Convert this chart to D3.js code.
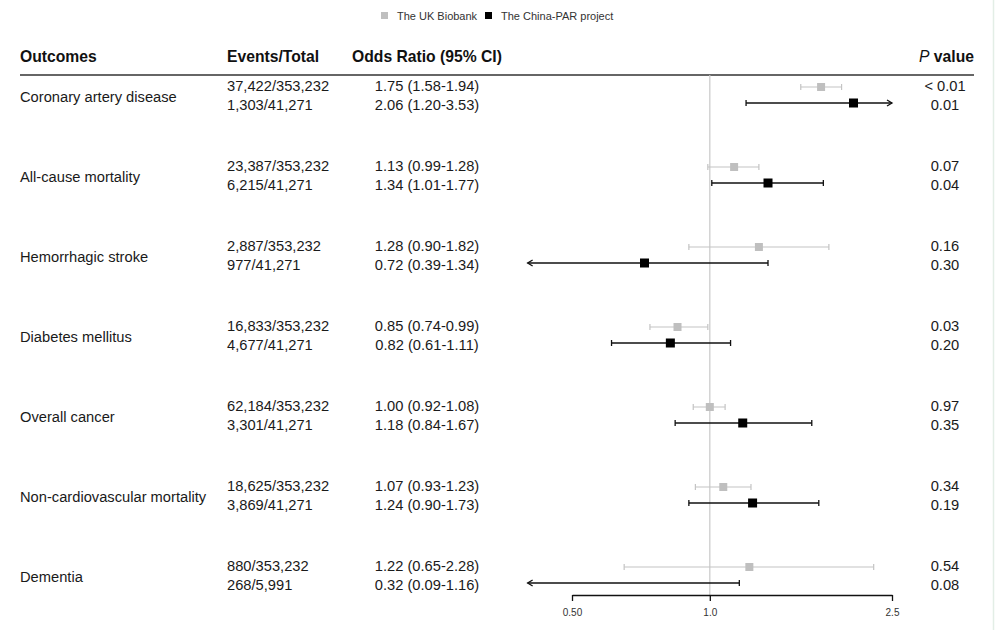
<!DOCTYPE html>
<html>
<head>
<meta charset="utf-8">
<script src="https://cdn.jsdelivr.net/npm/d3@7"></script>
<style>
  body { margin: 0; background: #fff; }
  svg { font-family: "Liberation Sans", Arial, sans-serif; }
  .cell { font-size: 14.7px; fill: #1a1a1a; }
  .head { font-size: 15.7px; font-weight: bold; fill: #111; }
</style>
</head>
<body>
<div id="chart"></div>
<script>
//--------------------------- DATA ---------------------------//
var outcomes = ["Coronary artery disease", "All-cause mortality", "Hemorrhagic stroke",
                "Diabetes mellitus", "Overall cancer", "Non-cardiovascular mortality", "Dementia"];
var cohorts = ["The UK Biobank", "The China-PAR project"];

// UK Biobank rows
var ukEvents = ["37,422/353,232", "23,387/353,232", "2,887/353,232", "16,833/353,232",
                "62,184/353,232", "18,625/353,232", "880/353,232"];
var ukOR = [1.75, 1.13, 1.28, 0.85, 1.00, 1.07, 1.22];
var ukLow = [1.58, 0.99, 0.90, 0.74, 0.92, 0.93, 0.65];
var ukHigh = [1.94, 1.28, 1.82, 0.99, 1.08, 1.23, 2.28];
var ukP = ["< 0.01", "0.07", "0.16", "0.03", "0.97", "0.34", "0.54"];

// China-PAR rows
var cnEvents = ["1,303/41,271", "6,215/41,271", "977/41,271", "4,677/41,271",
                "3,301/41,271", "3,869/41,271", "268/5,991"];
var cnOR = [2.06, 1.34, 0.72, 0.82, 1.18, 1.24, 0.32];
var cnLow = [1.20, 1.01, 0.39, 0.61, 0.84, 0.90, 0.09];
var cnHigh = [3.53, 1.77, 1.34, 1.11, 1.67, 1.73, 1.16];
var cnP = ["0.01", "0.04", "0.30", "0.20", "0.35", "0.19", "0.08"];

var tickVals = [0.5, 1.0, 2.5];
var tickLabels = ["0.50", "1.0", "2.5"];

//------------------------- SETUP ----------------------------//
var W = 996, H = 630;
var svg = d3.select("#chart").append("svg")
    .attr("width", W).attr("height", H);

var colors = ["#bfbfbf", "#000000"];
var lineColors = ["#c4c4c4", "#111111"];

var x = d3.scaleLog().domain([0.5, 2.5]).range([572, 892]);
var clipLo = 0.4, clipHi = 2.5;

// row layout: one band per outcome, two sub rows
var band = d3.scaleBand().domain(outcomes).range([56, 616]);
var sub = d3.scalePoint().domain(cohorts).range([0, 16]);     // marks
var subText = d3.scalePoint().domain(cohorts).range([0, 19]); // table text
function rowY(i, c) { return band(outcomes[i]) + 31 + sub(cohorts[c]); }
function textY(i, c) { return band(outcomes[i]) + 30 + subText(cohorts[c]) + 5; }

var rows = [];
outcomes.forEach(function(o, i) {
    rows.push({i: i, c: 0, ev: ukEvents[i], or: ukOR[i], lo: ukLow[i], hi: ukHigh[i], p: ukP[i]});
    rows.push({i: i, c: 1, ev: cnEvents[i], or: cnOR[i], lo: cnLow[i], hi: cnHigh[i], p: cnP[i]});
});

//------------------------- LEGEND ---------------------------//
var legend = svg.append("g");
var legX = [381, 485];
cohorts.forEach(function(c, k) {
    legend.append("rect").attr("x", legX[k]).attr("y", 12)
        .attr("width", 7).attr("height", 7).attr("fill", colors[k]);
    legend.append("text").attr("x", legX[k] + 16).attr("y", 19.5)
        .style("font-size", "11px").style("fill", "#333").text(c);
});

//------------------------- HEADER ---------------------------//
svg.append("text").attr("class", "head").attr("x", 20).attr("y", 62).text("Outcomes");
svg.append("text").attr("class", "head").attr("x", 227).attr("y", 62).text("Events/Total");
svg.append("text").attr("class", "head").attr("x", 427).attr("y", 62)
    .attr("text-anchor", "middle").text("Odds Ratio (95% CI)");
var ph = svg.append("text").attr("class", "head").attr("x", 974).attr("y", 62)
    .attr("text-anchor", "end");
ph.append("tspan").style("font-style", "italic").style("font-weight", "normal").text("P");
ph.append("tspan").text(" value");

svg.append("line").attr("x1", 20).attr("x2", 974).attr("y1", 75).attr("y2", 75)
    .attr("stroke", "#333").attr("stroke-width", 1.5);

// right edge frame
svg.append("line").attr("x1", 993.5).attr("x2", 993.5).attr("y1", 0).attr("y2", H)
    .attr("stroke", "#e3eee6").attr("stroke-width", 1.5);

//------------------------- TABLE ----------------------------//
svg.selectAll(".outc").data(outcomes).enter().append("text")
    .attr("class", "cell")
    .attr("x", 20)
    .attr("y", function(d) { return band(d) + 46; })
    .text(function(d) { return d; });

svg.selectAll(".ev").data(rows).enter().append("text")
    .attr("class", "cell").attr("x", 227)
    .attr("y", function(d) { return textY(d.i, d.c); })
    .text(function(d) { return d.ev; });

svg.selectAll(".orr").data(rows).enter().append("text")
    .attr("class", "cell").attr("x", 427).attr("text-anchor", "middle")
    .attr("y", function(d) { return textY(d.i, d.c); })
    .text(function(d) { return d.or.toFixed(2) + " (" + d.lo.toFixed(2) + "-" + d.hi.toFixed(2) + ")"; });

svg.selectAll(".pv").data(rows).enter().append("text")
    .attr("class", "cell").attr("x", 945).attr("text-anchor", "middle")
    .attr("y", function(d) { return textY(d.i, d.c); })
    .text(function(d) { return d.p; });

//------------------------- PLOT -----------------------------//
svg.append("line")
    .attr("x1", x(1)).attr("x2", x(1)).attr("y1", 75).attr("y2", 595)
    .attr("stroke", "#c8c8c8").attr("stroke-width", 1.2);

var ci = svg.selectAll(".ci").data(rows).enter().append("g")
    .attr("transform", function(d) { return "translate(0," + rowY(d.i, d.c) + ")"; });

ci.each(function(d) {
    var g = d3.select(this);
    var col = lineColors[d.c];
    var lw = d.c === 0 ? 1.2 : 1.3;
    var x0 = x(Math.max(d.lo, clipLo)), x1 = x(Math.min(d.hi, clipHi));
    g.append("line").attr("x1", x0).attr("x2", x1).attr("y1", 0).attr("y2", 0)
        .attr("stroke", col).attr("stroke-width", lw);
    // left end
    if (d.lo < clipLo) {
        g.append("path").attr("d", "M" + (x0 + 5) + ",-3L" + x0 + ",0L" + (x0 + 5) + ",3")
            .attr("fill", "none").attr("stroke", col).attr("stroke-width", lw);
    } else {
        g.append("line").attr("x1", x0).attr("x2", x0).attr("y1", -3).attr("y2", 3)
            .attr("stroke", col).attr("stroke-width", lw);
    }
    // right end
    if (d.hi > clipHi) {
        g.append("path").attr("d", "M" + (x1 - 5) + ",-3L" + x1 + ",0L" + (x1 - 5) + ",3")
            .attr("fill", "none").attr("stroke", col).attr("stroke-width", lw);
    } else {
        g.append("line").attr("x1", x1).attr("x2", x1).attr("y1", -3).attr("y2", 3)
            .attr("stroke", col).attr("stroke-width", lw);
    }
    // point estimate
    if (d.or >= clipLo && d.or <= clipHi) {
        var s = d.c === 0 ? 8 : 9;
        g.append("rect").attr("x", x(d.or) - s / 2).attr("y", -s / 2)
            .attr("width", s).attr("height", s).attr("fill", colors[d.c]);
    }
});

//------------------------- AXIS -----------------------------//
var axis = d3.axisBottom(x)
    .tickValues(tickVals)
    .tickFormat(function(d, i) { return tickLabels[i]; })
    .tickSize(6).tickSizeOuter(0);

var ag = svg.append("g").attr("transform", "translate(0,595)").call(axis);
ag.select(".domain").attr("stroke", "#111").attr("stroke-width", 1.3);
ag.selectAll(".tick line").attr("stroke", "#111").attr("stroke-width", 1.3);
ag.selectAll(".tick text").attr("y", 14).attr("dy", "0.71em")
    .style("font-size", "10px").style("fill", "#333")
    .style("font-family", "'Liberation Sans', Arial, sans-serif");
</script>
</body>
</html>
